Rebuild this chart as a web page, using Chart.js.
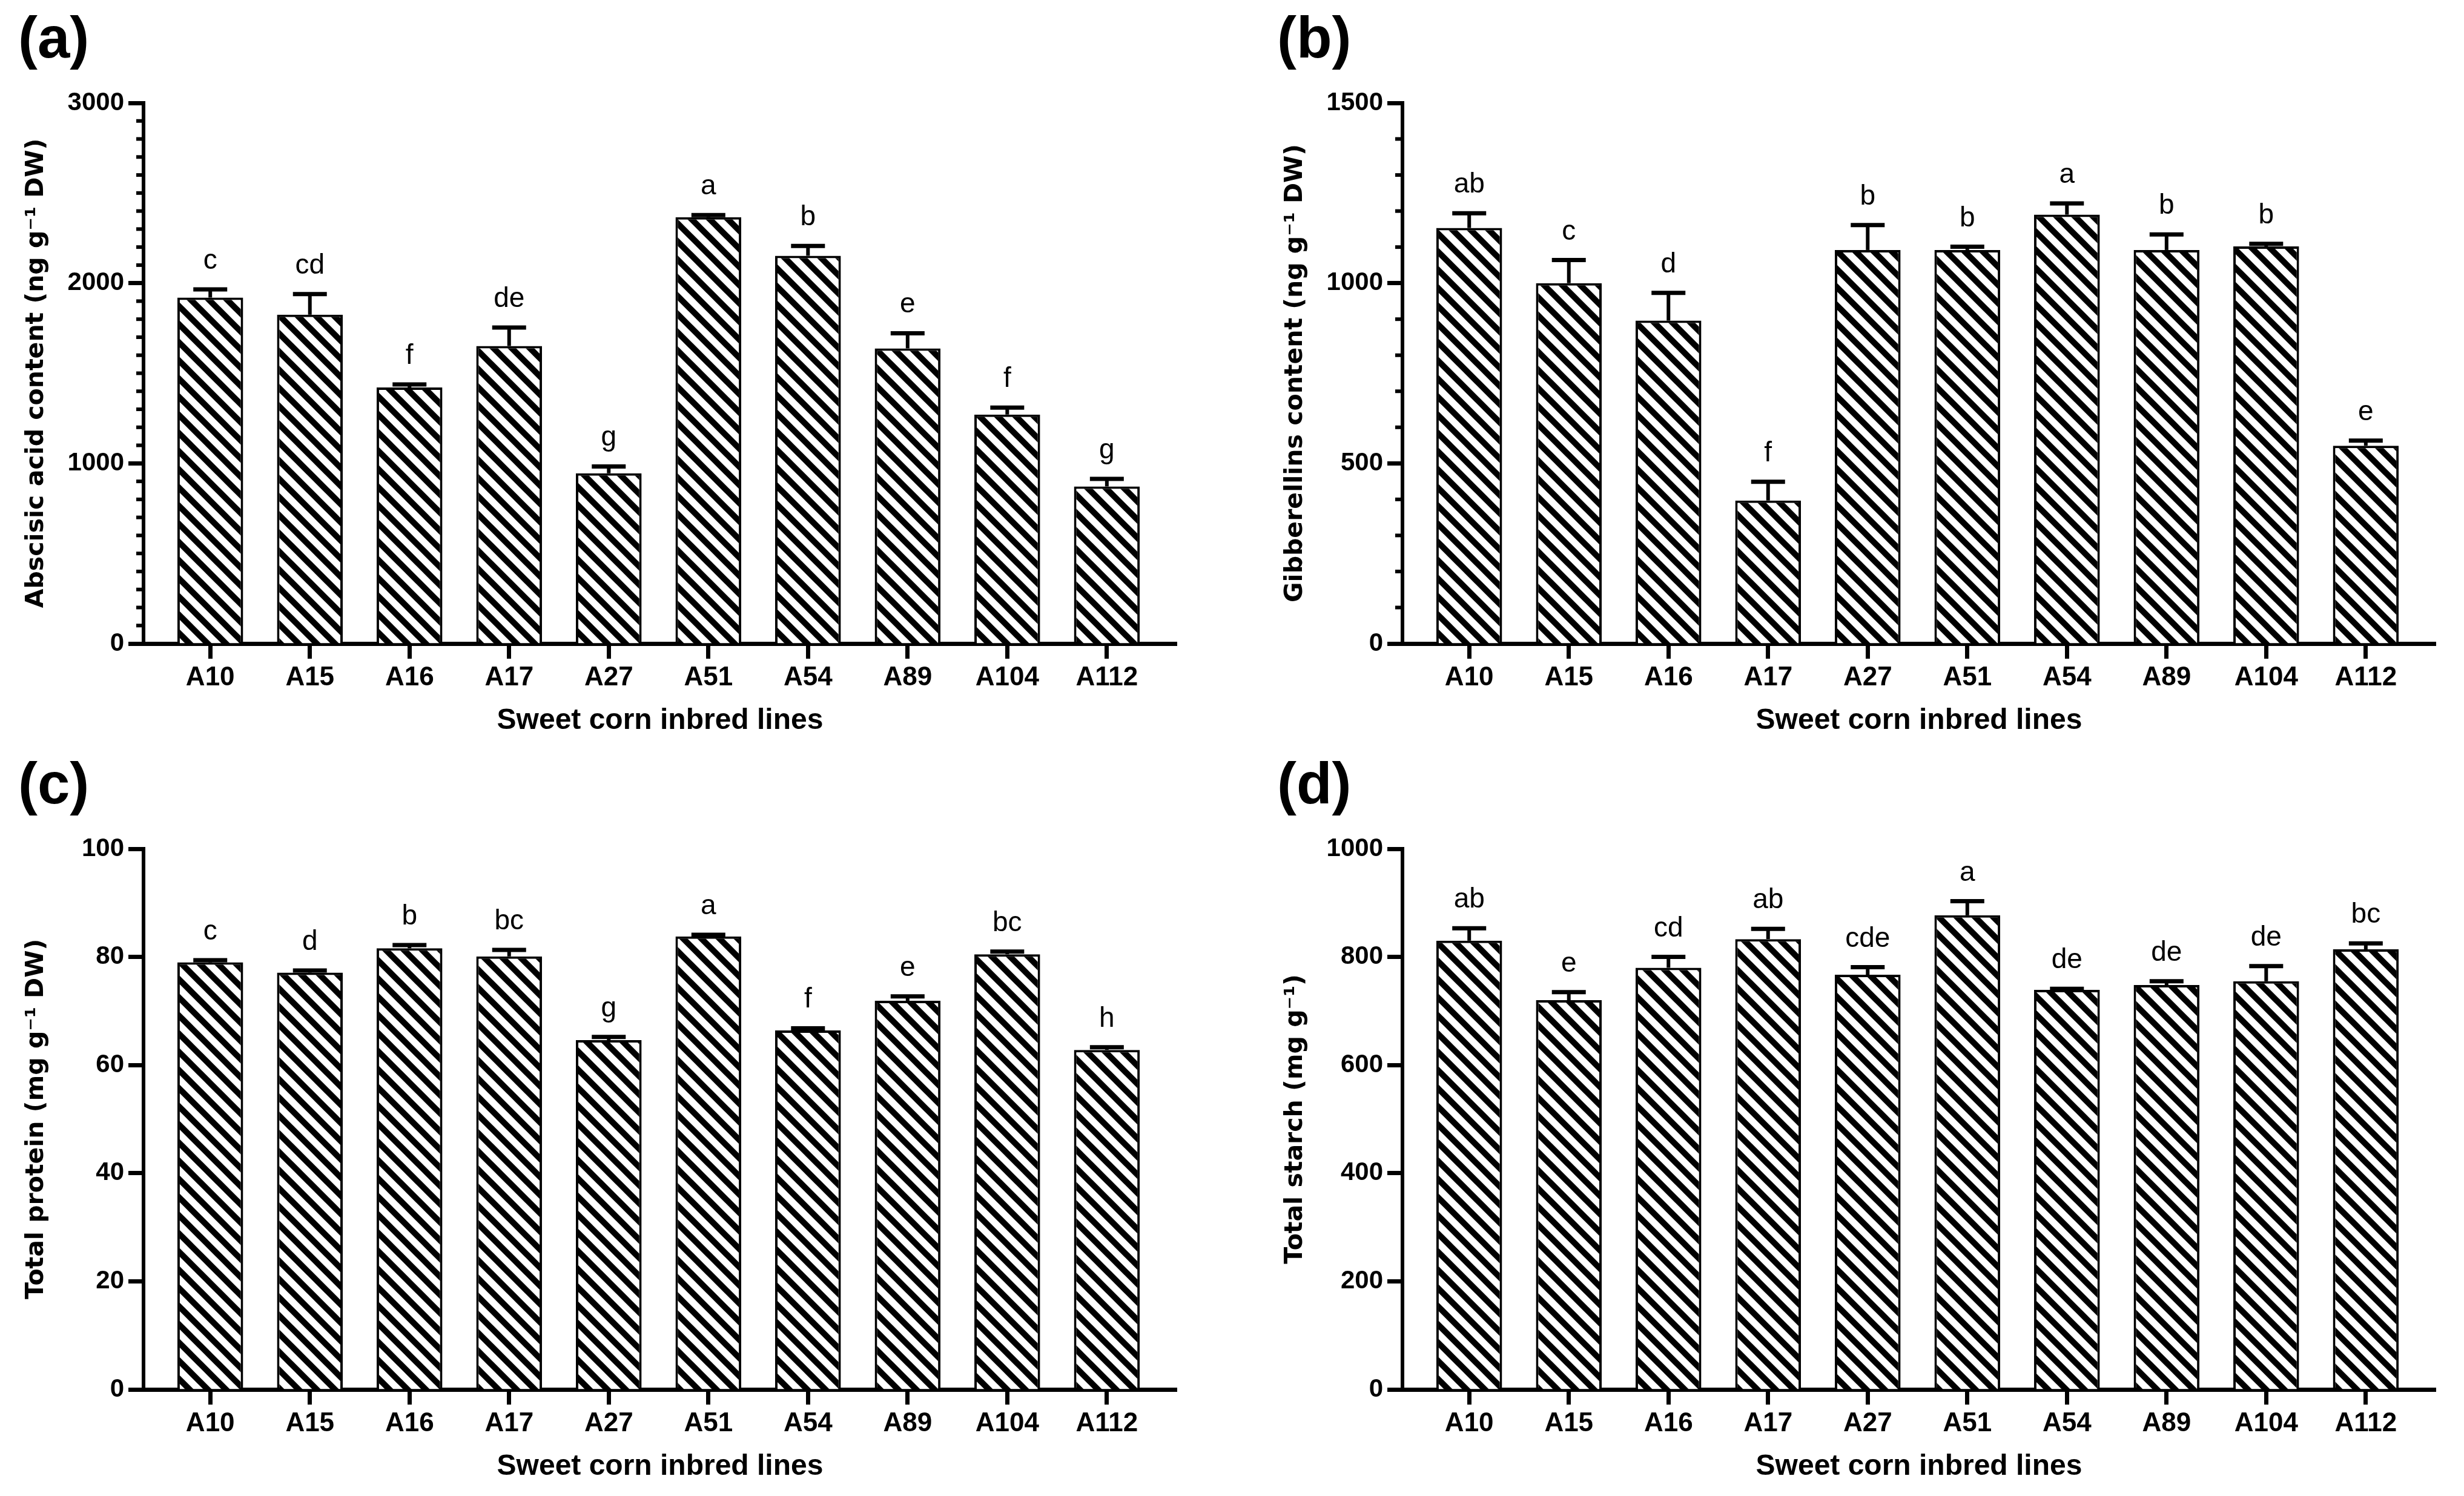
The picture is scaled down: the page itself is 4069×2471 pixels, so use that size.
<!DOCTYPE html>
<html>
<head>
<meta charset="utf-8">
<title>Sweet corn inbred lines</title>
<script src="https://cdn.jsdelivr.net/npm/chart.js@4.4.1/dist/chart.umd.min.js"></script>
<style>
  html, body { margin: 0; padding: 0; background: #fff; }
  #page { position: relative; width: 4069px; height: 2471px; background: #fff; overflow: hidden; }
  #page canvas { position: absolute; }
</style>
</head>
<body>
<div id="page">
  <canvas id="chart-a" width="1990" height="1239" style="left:0px;top:0px"></canvas>
  <canvas id="chart-b" width="1990" height="1239" style="left:2079px;top:0px"></canvas>
  <canvas id="chart-c" width="1990" height="1239" style="left:0px;top:1232px"></canvas>
  <canvas id="chart-d" width="1990" height="1239" style="left:2079px;top:1232px"></canvas>
</div>
<script>
// categories
const lines = ['A10', 'A15', 'A16', 'A17', 'A27', 'A51', 'A54', 'A89', 'A104', 'A112'];

// (a) abscisic acid, ng g-1 DW
const abaMeans = [1920, 1825, 1421, 1651, 945, 2366, 2152, 1638, 1271, 872];
const abaErrors = [45, 114, 17, 103, 38, 12, 54, 84, 38, 42];
const abaLetters = ['c', 'cd', 'f', 'de', 'g', 'a', 'b', 'e', 'f', 'g'];

// (b) gibberellins, ng g-1 DW
const gaMeans = [1153, 1000, 896, 397, 1092, 1092, 1190, 1092, 1102, 549];
const gaErrors = [41, 64, 77, 52, 69, 9, 31, 43, 7, 14];
const gaLetters = ['ab', 'c', 'd', 'f', 'b', 'b', 'a', 'b', 'b', 'e'];

// (c) total protein, mg g-1 DW
const proteinMeans = [79.0, 77.1, 81.6, 80.1, 64.6, 83.8, 66.4, 71.9, 80.5, 62.8];
const proteinErrors = [0.4, 0.4, 0.6, 1.2, 0.6, 0.3, 0.4, 0.8, 0.5, 0.5];
const proteinLetters = ['c', 'd', 'b', 'bc', 'g', 'a', 'f', 'e', 'bc', 'h'];

// (d) total starch, mg g-1
const starchMeans = [830, 720, 780, 833, 767, 877, 739, 748, 755, 814];
const starchErrors = [23, 15, 20, 19, 14, 26, 2, 7, 28, 11];
const starchLetters = ['ab', 'e', 'cd', 'ab', 'cde', 'a', 'de', 'de', 'de', 'bc'];

const ARIAL = "'Liberation Sans', Arial, Helvetica, sans-serif";
const WIDE = "'DejaVu Sans', Verdana, sans-serif";

// diagonal hatch like the Prism fill
function makeHatch() {
  const t = 30;
  const tile = document.createElement('canvas');
  tile.width = t;
  tile.height = t;
  const c = tile.getContext('2d');
  c.fillStyle = '#fff';
  c.fillRect(0, 0, t, t);
  c.strokeStyle = '#000';
  c.lineWidth = 10;
  for (const k of [-1, 0, 1]) {
    c.beginPath();
    c.moveTo(k * t - 6, -6);
    c.lineTo(k * t + t + 6, t + 6);
    c.stroke();
  }
  return c.createPattern(tile, 'repeat');
}
const hatch = makeHatch();

// error bars (upper only) and the letters above them
const errorBars = {
  id: 'errorBars',
  afterDatasetsDraw(chart, args, opts) {
    const ctx = chart.ctx;
    const yScale = chart.scales.y;
    const points = chart.data.datasets[0].data;
    const meta = chart.getDatasetMeta(0);
    ctx.save();
    ctx.strokeStyle = '#000';
    ctx.fillStyle = '#000';
    ctx.font = '46px ' + ARIAL;
    ctx.textAlign = 'center';
    ctx.textBaseline = 'alphabetic';
    meta.data.forEach((bar, i) => {
      const top = yScale.getPixelForValue(points[i].y + opts.errors[i]);
      ctx.lineWidth = 6;
      ctx.beginPath();
      ctx.moveTo(bar.x, bar.y);
      ctx.lineTo(bar.x, top);
      ctx.stroke();
      ctx.lineWidth = 7;
      ctx.beginPath();
      ctx.moveTo(bar.x - 28, top);
      ctx.lineTo(bar.x + 28, top);
      ctx.stroke();
      ctx.fillText(opts.letters[i], bar.x, top - 34);
    });
    ctx.restore();
  }
};

// short minor ticks on the y axis
const minorTicks = {
  id: 'minorTicks',
  afterDraw(chart, args, opts) {
    if (!opts.step) return;
    const ctx = chart.ctx;
    const y = chart.scales.y;
    const x0 = chart.chartArea.left;
    ctx.save();
    ctx.strokeStyle = '#000';
    ctx.lineWidth = 6;
    for (let v = y.min + opts.step; v < y.max; v += opts.step) {
      if (v % opts.major === 0) continue;
      const py = y.getPixelForValue(v);
      ctx.beginPath();
      ctx.moveTo(x0 - 12, py);
      ctx.lineTo(x0, py);
      ctx.stroke();
    }
    ctx.restore();
  }
};

function makeChart(id, panel, means, errors, letters, yTitle, yMax, yStep, minorStep) {
  return new Chart(document.getElementById(id), {
    type: 'bar',
    data: {
      datasets: [{
        data: means.map((v, i) => ({ x: i, y: v })),
        backgroundColor: hatch,
        borderColor: '#000',
        borderWidth: 4,
        categoryPercentage: 1,
        barPercentage: 0.66
      }]
    },
    options: {
      responsive: false,
      animation: false,
      devicePixelRatio: 1,
      layout: { padding: { left: 30, right: 47, top: 0, bottom: 0 } },
      plugins: {
        legend: { display: false },
        tooltip: { enabled: false },
        title: {
          display: true,
          text: panel,
          align: 'start',
          color: '#000',
          font: { family: ARIAL, size: 96, weight: 'bold', lineHeight: 1 },
          padding: { top: 21, bottom: 53 }
        },
        errorBars: { errors: errors, letters: letters },
        minorTicks: { step: minorStep, major: yStep }
      },
      scales: {
        x: {
          type: 'linear',
          min: -0.67,
          max: 9.7,
          offset: false,
          z: 1,
          afterBuildTicks: s => { s.ticks = lines.map((_, i) => ({ value: i })); },
          afterFit: s => { s.height = 176; },
          ticks: {
            callback: v => lines[v],
            autoSkip: false,
            maxRotation: 0,
            color: '#000',
            padding: 5,
            font: { family: ARIAL, size: 44, weight: 'bold' }
          },
          grid: { offset: false, drawOnChartArea: false, tickLength: 25, tickWidth: 7, tickColor: '#000' },
          border: { color: '#000', width: 7 },
          title: {
            display: true,
            text: 'Sweet corn inbred lines',
            color: '#000',
            font: { family: ARIAL, size: 48, weight: 'bold' },
            padding: { top: 0, bottom: 19 }
          }
        },
        y: {
          min: 0,
          max: yMax,
          afterFit: s => { s.width = 207; },
          ticks: {
            stepSize: yStep,
            callback: v => String(v),
            color: '#000',
            padding: 7,
            font: { family: ARIAL, size: 42, weight: 'bold' }
          },
          grid: { drawOnChartArea: false, tickLength: 25, tickWidth: 7, tickColor: '#000' },
          border: { color: '#000', width: 6 },
          title: {
            display: true,
            text: yTitle,
            color: '#000',
            font: { family: WIDE, size: 41, weight: 'bold' },
            padding: { top: 6, bottom: 0 }
          }
        }
      }
    },
    plugins: [errorBars, minorTicks]
  });
}

makeChart('chart-a', '(a)', abaMeans, abaErrors, abaLetters, 'Abscisic acid content (ng g\u207B\u00B9 DW)', 3000, 1000, 100);
makeChart('chart-b', '(b)', gaMeans, gaErrors, gaLetters, 'Gibberellins content (ng g\u207B\u00B9 DW)', 1500, 500, 100);
makeChart('chart-c', '(c)', proteinMeans, proteinErrors, proteinLetters, 'Total protein (mg g\u207B\u00B9 DW)', 100, 20, 0);
makeChart('chart-d', '(d)', starchMeans, starchErrors, starchLetters, 'Total starch (mg g\u207B\u00B9)', 1000, 200, 0);
</script>
</body>
</html>
